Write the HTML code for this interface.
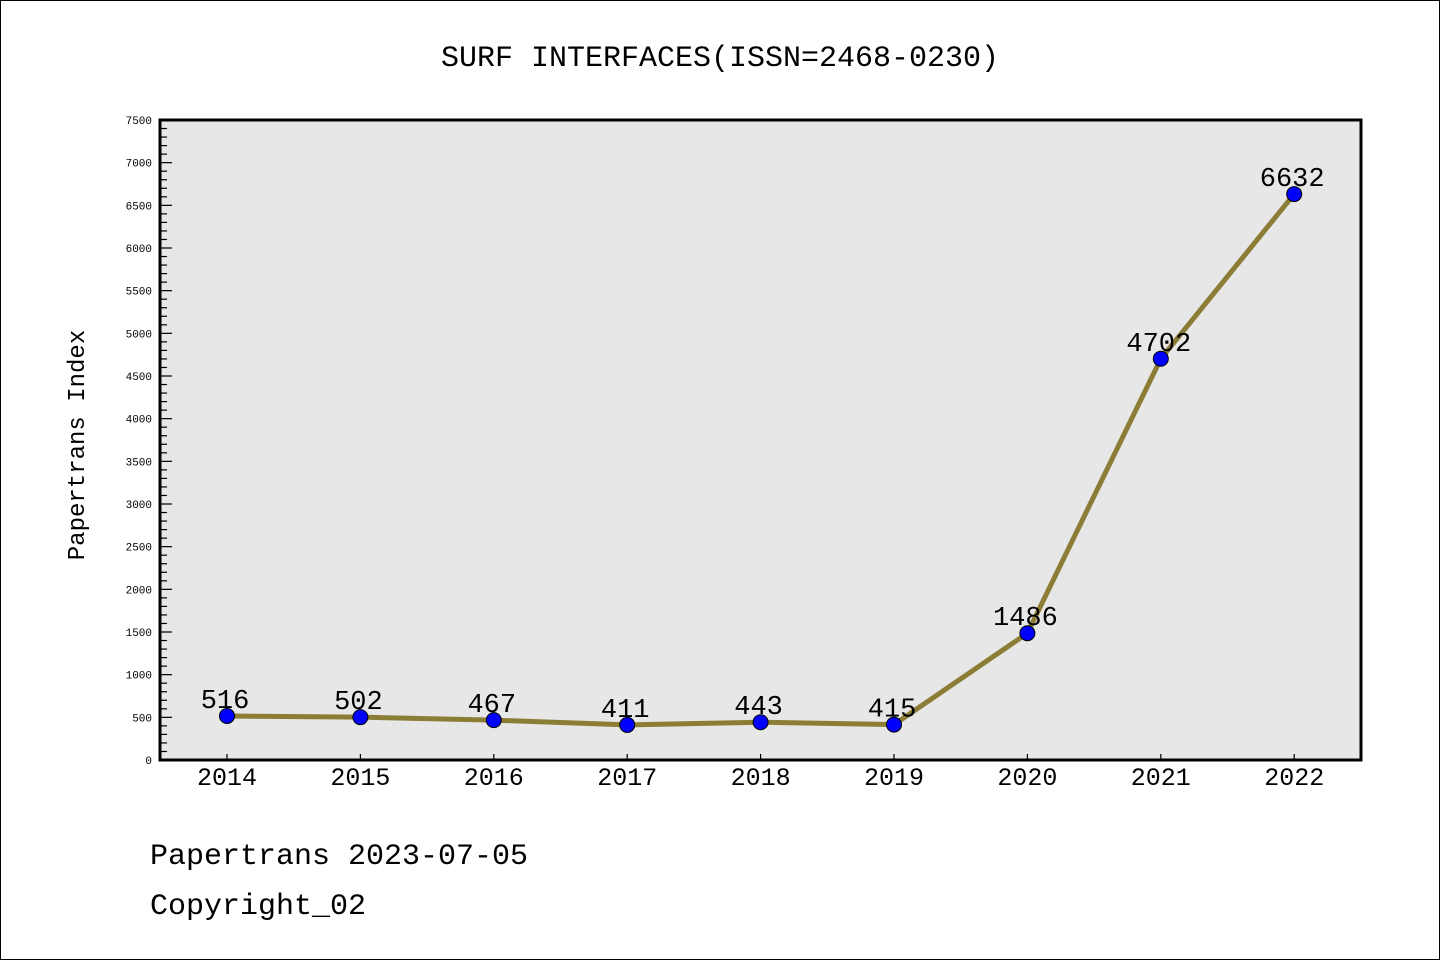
<!DOCTYPE html>
<html><head><meta charset="utf-8"><style>
html,body{margin:0;padding:0;background:#fff}
svg{display:block}
text{font-family:"Liberation Mono","DejaVu Sans Mono",monospace}
</style></head><body>
<svg id="c" width="1440" height="960" viewBox="0 0 1440 960" xmlns="http://www.w3.org/2000/svg">
<rect x="0.5" y="0.5" width="1439" height="959" fill="#fff" stroke="#000"/>
<text x="720" y="66" text-anchor="middle" font-size="30">SURF INTERFACES(ISSN=2468-0230)</text>
<rect x="160" y="120" width="1201" height="640" fill="#e7e7e7"/>
<g id="yt"></g>
<g id="xt"></g>
<g id="series"></g>
<rect x="160" y="120" width="1201" height="640" fill="none" stroke="#000" stroke-width="3"/>
<text transform="translate(84,445) rotate(-90)" text-anchor="middle" font-size="24">Papertrans Index</text>
<text x="150" y="864" font-size="30">Papertrans 2023-07-05</text>
<text x="150" y="914" font-size="30">Copyright_02</text>
</svg>
<script>
const years=["2014","2015","2016","2017","2018","2019","2020","2021","2022"];
const values=[516,502,467,411,443,415,1486,4702,6632];
const yTicks=[0,500,1000,1500,2000,2500,3000,3500,4000,4500,5000,5500,6000,6500,7000,7500];
const NS="http://www.w3.org/2000/svg";
const X0=227,DX=133.4,Y0=760,YMAX=7500,PH=640;
function xs(i){return X0+i*DX;}
function ys(v){return Y0-v/YMAX*PH;}
function mk(t,a,p){const e=document.createElementNS(NS,t);for(const k in a)e.setAttribute(k,a[k]);p.appendChild(e);return e;}
const yt=document.getElementById('yt'),xt=document.getElementById('xt'),sg=document.getElementById('series');
for(let v=0;v<=YMAX;v+=100){
 const major=v%500===0;
 const l=mk('line',{x1:160,x2:major?172:167,y1:ys(v),y2:ys(v),stroke:'#000','stroke-width':1.2},yt);
 
 
}
yTicks.forEach(v=>{
 const t=mk('text',{x:152,y:ys(v)+4,'text-anchor':'end','font-size':11,'font-family':'Liberation Sans,sans-serif'},yt);
 t.textContent=v;
 
 
});
years.forEach((y,i)=>{
 const l=mk('line',{x1:xs(i),x2:xs(i),y1:760,y2:754,stroke:'#000','stroke-width':1.2},xt);
 
 
 const t=mk('text',{x:xs(i),y:785,'text-anchor':'middle','font-size':25,'font-family':'Liberation Sans,sans-serif'},xt);
 t.textContent=y;
 
 
});
const pts=values.map((v,i)=>xs(i)+','+ys(v)).join(' ');
const pl=mk('polyline',{points:pts,fill:'none',stroke:'#8b7d36','stroke-width':5,'stroke-linejoin':'round'},sg);


values.forEach((v,i)=>{
 const c=mk('circle',{cx:xs(i),cy:ys(v),r:7.5,fill:'#0000ff',stroke:'#000','stroke-width':1},sg);
 
 
 const t=mk('text',{x:xs(i)-2,y:ys(v)-8,'text-anchor':'middle','font-size':27,'font-family':'Liberation Sans,sans-serif'},sg);
 t.textContent=v;
 
 
});
</script>
</body></html>
